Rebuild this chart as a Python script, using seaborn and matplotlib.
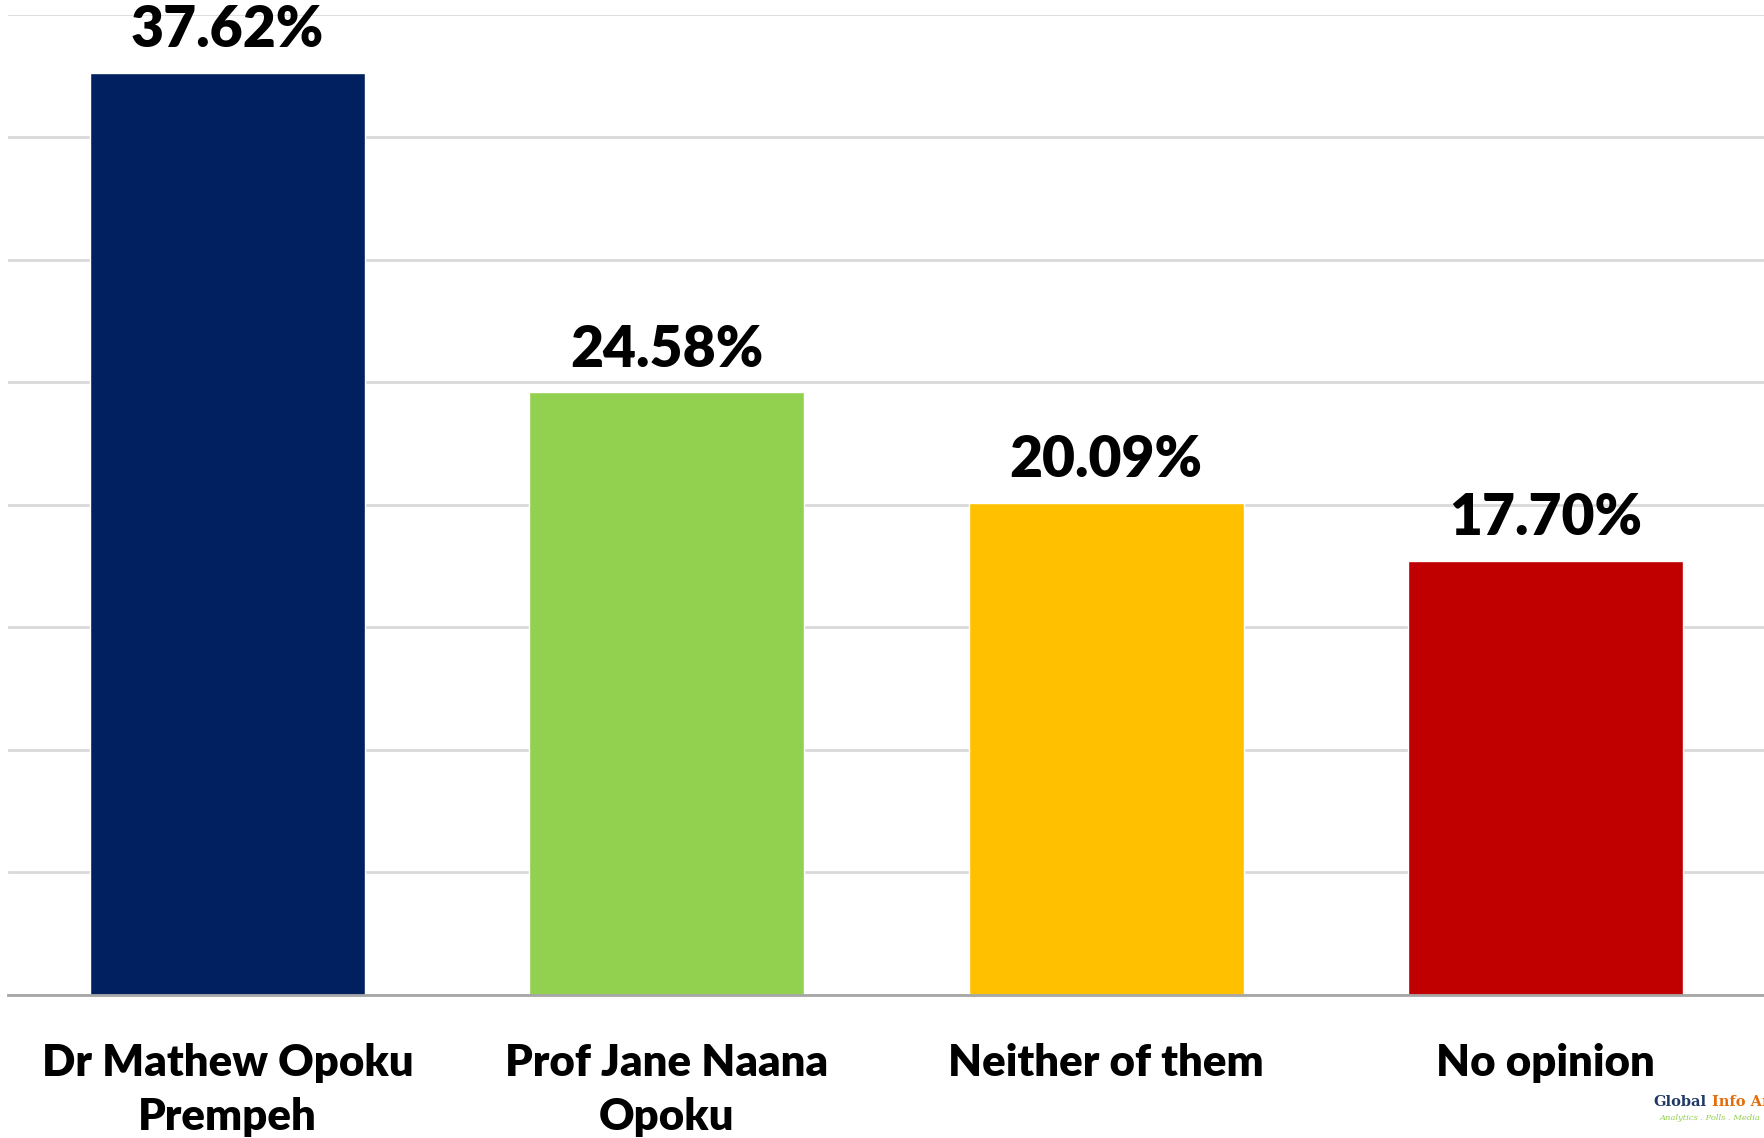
import pandas as pd
import matplotlib.pyplot as plt
import seaborn as sns

candidates = ['Dr Mathew Opoku\nPrempeh', 'Prof Jane Naana\nOpoku', 'Neither of them', 'No opinion']
shares = [37.62, 24.58, 20.09, 17.70]
bar_colors = ['#002060', '#92D050', '#FFC000', '#C00000']

df = pd.DataFrame({'candidate': candidates, 'share': shares})

sns.set_style('white')
plt.rcParams['font.family'] = ['Lato', 'DejaVu Sans']

fig = plt.figure(figsize=(17.65, 11.38), dpi=100)
ax = fig.add_axes([8 / 1765, 1 - 995 / 1138, 1 - 8 / 1765, (995 - 14.5) / 1138])

sns.barplot(data=df, x='candidate', y='share', hue='candidate', palette=bar_colors,
            width=0.626, saturation=1, legend=False, ax=ax)

ax.set_ylim(0, 40)
ax.set_xlim(-0.5, 3.5)
ax.set_yticks(range(0, 45, 5))
ax.yaxis.grid(True, color='#d9d9d9', linewidth=2)
ax.set_axisbelow(True)
ax.tick_params(axis='y', left=False, labelleft=False)
ax.tick_params(axis='x', bottom=False, pad=31)
ax.set_xlabel('')
ax.set_ylabel('')
for s in ['top', 'right', 'left']:
    ax.spines[s].set_visible(False)
ax.spines['bottom'].set_color('#a6a6a6')
ax.spines['bottom'].set_linewidth(2)

for lbl in ax.get_xticklabels():
    lbl.set_fontsize(31.5)
    lbl.set_fontweight('heavy')
    lbl.set_color('black')
    lbl.set_linespacing(1.42)
    lbl.set_verticalalignment('top')

for i, v in enumerate(shares):
    ax.annotate(f'{v:.2f}%', (i, v), xytext=(0, 12), textcoords='offset points',
                ha='center', va='bottom', fontsize=41, fontweight='heavy', color='black')

# logo text at bottom right
fig.text(1653 / 1765, 1 - 1102 / 1138, 'Global', color='#1f3864', fontsize=10.5,
         fontweight='bold', family='DejaVu Serif', ha='left', va='center')
fig.text(1712 / 1765, 1 - 1102 / 1138, 'Info An', color='#e46c0a', fontsize=10.5,
         fontweight='bold', family='DejaVu Serif', ha='left', va='center')
fig.text(1660 / 1765, 1 - 1118 / 1138, 'Analytics . Polls . Media', color='#92D050',
         fontsize=6, style='italic', family='DejaVu Serif', ha='left', va='center')

fig.savefig('out.png', dpi=100)
